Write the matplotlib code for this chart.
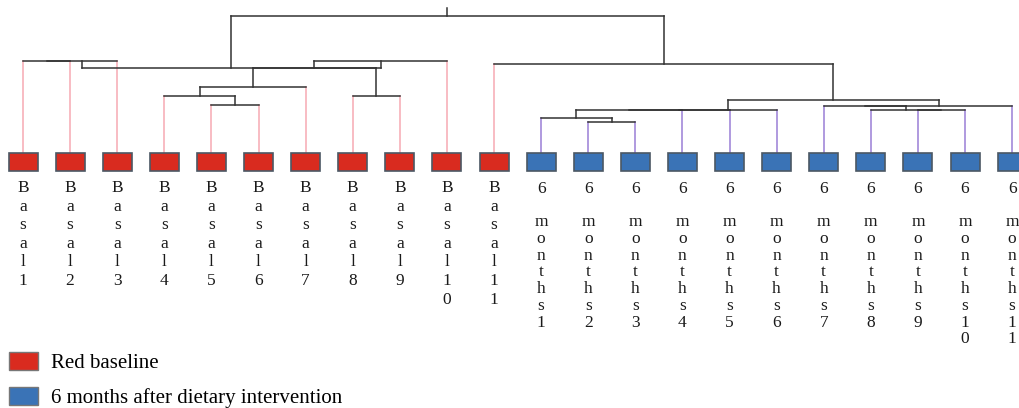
import matplotlib
matplotlib.use('Agg')
import matplotlib.pyplot as plt
from matplotlib.patches import Patch

plt.rcParams['font.family'] = ['Liberation Serif', 'DejaVu Serif']

# leaf labels (left to right)
basal_labels = ['Basal1', 'Basal2', 'Basal3', 'Basal4', 'Basal5', 'Basal6',
                'Basal7', 'Basal8', 'Basal9', 'Basal10', 'Basal11']
month_labels = ['6 months1', '6 months2', '6 months3', '6 months4', '6 months5',
                '6 months6', '6 months7', '6 months8', '6 months9', '6 months10',
                '6 months11']

# merges: node ids 0..21 are leaves, each merge creates the next id
merge_left = [0, 22, 4, 3, 25, 7, 26, 28, 23, 12, 11, 32, 33, 34, 19, 18, 17, 38, 35, 10, 30]
merge_right = [1, 2, 5, 24, 6, 8, 27, 9, 29, 13, 31, 14, 15, 16, 20, 36, 37, 21, 39, 40, 41]
merge_height = [92, 92, 48, 57, 66, 57, 85.5, 92, 85.5, 31, 35, 43, 43, 43, 43, 43, 47, 47, 53, 89, 137]
root_top = 145

legend_labels = ['Red baseline', '6 months after dietary intervention']

red = '#d92b1f'
blue = '#3a73b6'
box_edge = '#4c5864'
link_col = '#333333'
pink = '#f6a9b3'
purple = '#9a7ed6'

step = 47.1  # pixels between leaves
fig = plt.figure(figsize=(10.19, 4.08), dpi=100)
ax = fig.add_axes([0, 0, 1, 1])
ax.set_xlim(-23 / step, (1019 - 23) / step)
ax.set_ylim(-255, 153)
ax.axis('off')

n_basal = len(basal_labels)
n_leaf = n_basal + len(month_labels)
xpos = list(range(n_leaf))
hpos = [0] * n_leaf
stem_col = [pink] * n_basal + [purple] * len(month_labels)

for a, b, h in zip(merge_left, merge_right, merge_height):
    for c in (a, b):
        col = stem_col[c] if c < n_leaf else link_col
        ax.plot([xpos[c], xpos[c]], [hpos[c], h], color=col, lw=1.1, zorder=1)
    ax.plot([xpos[a], xpos[b]], [h, h], color=link_col, lw=1.1, zorder=2)
    xpos.append((xpos[a] + xpos[b]) / 2)
    hpos.append(h)
ax.plot([xpos[-1], xpos[-1]], [hpos[-1], root_top], color=link_col, lw=1.1)

# leaf boxes
box_w = 29 / step
ax.bar(range(n_basal), 18, bottom=-18, width=box_w, color=red,
       edgecolor=box_edge, lw=1.2, zorder=3)
ax.bar(range(n_basal, n_leaf), 18, bottom=-18, width=box_w, color=blue,
       edgecolor=box_edge, lw=1.2, zorder=3)

# vertical labels, one character per line
def stack_label(x, text, first_base, gap):
    for k, ch in enumerate(text):
        if ch == ' ':
            continue
        ax.text(x, 153 - (first_base + k * gap), ch, ha='center', va='baseline',
                fontsize=12.5, color='#1a1a1a')

for i, lab in enumerate(basal_labels):
    stack_label(i, lab, 192, 18.6)
for i, lab in enumerate(month_labels):
    stack_label(n_basal + i, lab, 193, 16.7)

handles = [Patch(facecolor=red, edgecolor='#777777'),
           Patch(facecolor=blue, edgecolor='#777777')]
ax.legend(handles, legend_labels, loc='lower left',
          bbox_to_anchor=(9 / 1019, 0), bbox_transform=fig.transFigure,
          frameon=False, fontsize=15, handlelength=1.4, handleheight=1.0,
          handletextpad=0.6, labelspacing=0.65, borderpad=0, borderaxespad=0)

fig.savefig('out.png', dpi=100)
